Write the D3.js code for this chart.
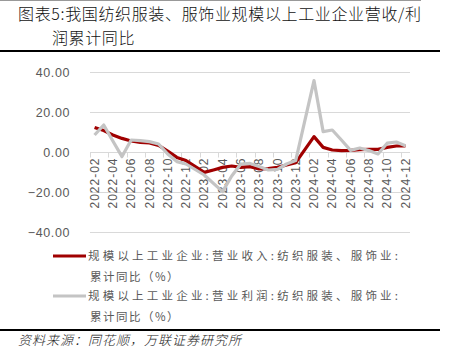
<!DOCTYPE html>
<html>
<head>
<meta charset="utf-8">
<script src="https://cdn.jsdelivr.net/npm/d3@7"></script>
<style>
  body { margin: 0; background: #fff; }
  svg { display: block; }
</style>
</head>
<body>
<svg id="mainSvg" width="450" height="353"></svg>
<script>
// months on the axis (January is not published, so it stays empty)
var months = [
  "2022-02","2022-03","2022-04","2022-05","2022-06","2022-07","2022-08","2022-09","2022-10","2022-11","2022-12",
  "2023-01","2023-02","2023-03","2023-04","2023-05","2023-06","2023-07","2023-08","2023-09","2023-10","2023-11","2023-12",
  "2024-01","2024-02","2024-03","2024-04","2024-05","2024-06","2024-07","2024-08","2024-09","2024-10","2024-11","2024-12"
];
// 营业收入 累计同比 (%)
var revenue = [
  12.3, 10.7, 8.5, 6.8, 5.5, 4.8, 4.5, 3.3, 0.5, -2.7, -4.3,
  null, -10.2, -9.0, -7.7, -7.0, -7.7, -7.3, -8.5, -8.3, -7.7, -6.5, -5.3,
  null, 7.7, 2.3, 1.0, 0.7, 0.8, 1.2, 1.3, 1.3, 2.3, 3.0, 3.1
];
// 营业利润 累计同比 (%)
var profit = [
  8.5, 13.5, 5.5, -2.3, 6.0, 5.7, 5.2, 4.0, -1.0, -4.8, -6.0,
  null, -11.5, -15.7, -19.8, -12.0, -6.0, -5.7, -7.3, -9.0, -8.7, -6.0, -4.3,
  null, 35.7, 10.2, 11.0, 6.0, 0.8, 2.0, 0.7, -1.0, 4.4, 5.0, 3.1
];
var yTicks = [-40, -20, 0, 20, 40];
var seriesNames = [
  ["规模以上工业企业:营业收入:纺织服装、服饰业:", "累计同比（%）"],
  ["规模以上工业企业:营业利润:纺织服装、服饰业:", "累计同比（%）"]
];
var seriesColors = ["#a00000", "#c4c4c4"];

var svg = d3.select("#mainSvg");
var cjk = "'Noto Sans CJK SC', sans-serif";

// frame lines and title
svg.append("line").attr("x1", 0).attr("x2", 421).attr("y1", 0.5).attr("y2", 0.5)
  .attr("stroke", "#999").attr("stroke-width", 1);
svg.append("text").attr("x", 18).attr("y", 20)
  .style("font-family", cjk).style("font-size", "16px").style("font-weight", 300).attr("fill", "#111")
  .attr("textLength", 403).attr("lengthAdjust", "spacing")
  .text("图表5:我国纺织服装、服饰业规模以上工业企业营收/利");
svg.append("text").attr("x", 52).attr("y", 44)
  .style("font-family", cjk).style("font-size", "16px").style("font-weight", 300).attr("fill", "#111")
  .style("letter-spacing", "0.6px")
  .text("润累计同比");
svg.append("line").attr("x1", 0).attr("x2", 440).attr("y1", 51).attr("y2", 51)
  .attr("stroke", "#000").attr("stroke-width", 2);
svg.append("line").attr("x1", 0).attr("x2", 440).attr("y1", 330).attr("y2", 330)
  .attr("stroke", "#000").attr("stroke-width", 2);
svg.append("text").attr("x", 18).attr("y", 345)
  .style("font-family", cjk).style("font-size", "13px").style("font-style", "italic")
  .style("font-weight", 300).style("letter-spacing", "1px").attr("fill", "#222")
  .text("资料来源：同花顺，万联证券研究所");

// scales
var x = d3.scaleBand().domain(months).range([90, 410]);
var y = d3.scaleLinear().domain([-40, 40]).range([232, 72]);
var cx = function(m) { return x(m) + x.bandwidth() / 2; };

// gridlines
svg.append("g").selectAll("line")
  .data(yTicks.filter(function(d) { return d !== 0; }))
  .enter().append("line")
  .attr("x1", 90).attr("x2", 410)
  .attr("y1", function(d) { return Math.round(y(d)) + 0.5; })
  .attr("y2", function(d) { return Math.round(y(d)) + 0.5; })
  .attr("stroke", "#d9d9d9").attr("stroke-width", 1);

// y axis labels
var yAxis = d3.axisLeft(y).tickValues(yTicks).tickSize(0).tickPadding(0)
  .tickFormat(function(d) { return d3.format(".2f")(d); });
var yg = svg.append("g").attr("transform", "translate(70,0)").call(yAxis);
yg.select(".domain").remove();
yg.selectAll("text").style("font-family", "'Liberation Sans', sans-serif")
  .style("font-size", "12.5px").style("letter-spacing", "0.6px").attr("fill", "#595959");

// x axis on the zero line
var xAxis = d3.axisBottom(x).tickSize(0).tickPadding(0)
  .tickValues(months.filter(function(d, i) { return i % 2 === 0; }));
var xg = svg.append("g").attr("transform", "translate(0," + (Math.round(y(0)) + 0.5) + ")").call(xAxis);
xg.select(".domain").attr("stroke", "#d9d9d9").attr("d", "M90,0H410");
xg.selectAll("text")
  .style("font-family", "'Liberation Sans', sans-serif").style("font-size", "12px")
  .style("letter-spacing", "1px").attr("fill", "#595959")
  .style("text-anchor", "end")
  .attr("transform", "rotate(-90)")
  .attr("x", -5).attr("y", 0).attr("dy", "0.35em");
// small marks between every second month
xg.selectAll(".mk")
  .data(months.filter(function(d, i) { return i % 2 === 0; }))
  .enter().append("line")
  .attr("x1", function(d) { return Math.round(x(d)) + 0.5; })
  .attr("x2", function(d) { return Math.round(x(d)) + 0.5; })
  .attr("y1", 0).attr("y2", 5)
  .attr("stroke", "#d9d9d9");

// lines
var line = d3.line()
  .x(function(d) { return cx(d.m); })
  .y(function(d) { return y(d.v); });

[revenue, profit].forEach(function(vals, k) {
  var pts = months.map(function(m, i) { return { m: m, v: vals[i] }; })
    .filter(function(d) { return d.v !== null; });
  svg.append("path").datum(pts)
    .attr("d", line)
    .attr("fill", "none")
    .attr("stroke", seriesColors[k])
    .attr("stroke-width", 3.2)
    .attr("stroke-linejoin", "round");
});

// legend
var legendY = [256, 296];
seriesNames.forEach(function(lines, k) {
  svg.append("line")
    .attr("x1", 53).attr("x2", 86)
    .attr("y1", legendY[k]).attr("y2", legendY[k])
    .attr("stroke", seriesColors[k]).attr("stroke-width", 3.2);
  svg.append("text").attr("x", 88).attr("y", legendY[k] + 4)
    .style("font-family", cjk).style("font-size", "11.5px").attr("fill", "#595959")
    .attr("textLength", 310).attr("lengthAdjust", "spacing")
    .text(lines[0]);
  svg.append("text").attr("x", 90).attr("y", legendY[k] + 25)
    .style("font-family", cjk).style("font-size", "11.5px").attr("fill", "#595959")
    .style("letter-spacing", "1.5px")
    .text(lines[1]);
});
</script>
</body>
</html>
